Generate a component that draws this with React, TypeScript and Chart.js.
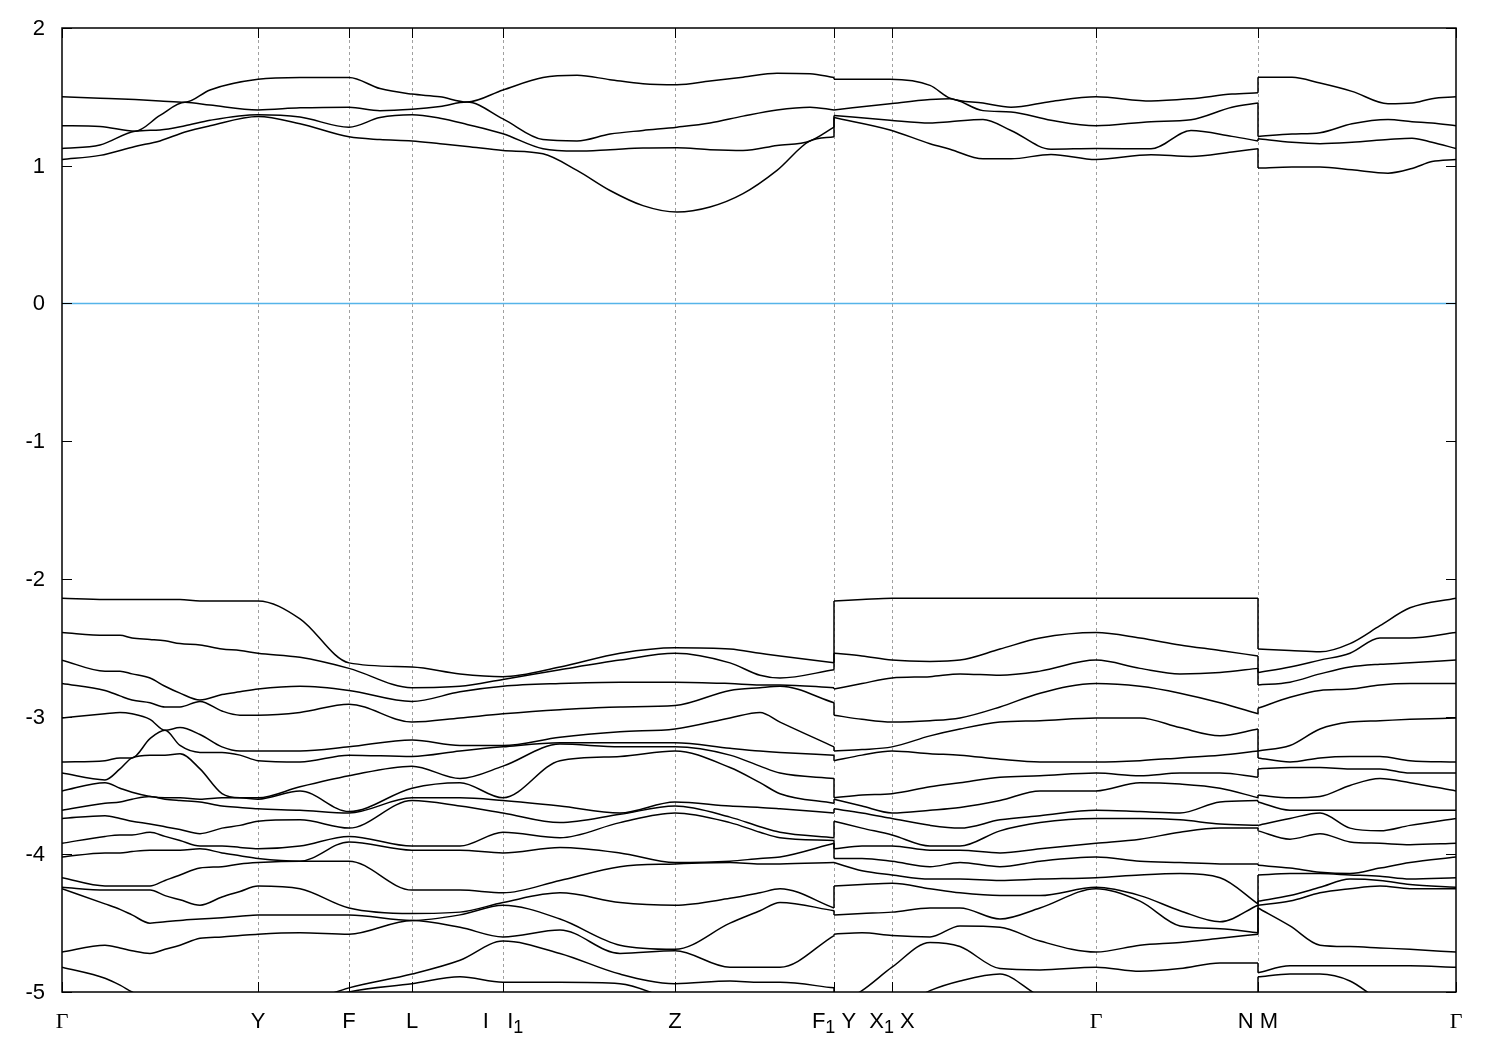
import { useEffect, useRef } from 'react';
import { Chart, registerables } from 'chart.js';

Chart.register(...registerables);

// ---- axes ----
const symK = [0, 1.96, 2.87, 3.5, 4.41, 6.13, 7.72, 8.3, 10.34, 11.96, 13.94];
const symLabels = ['Γ', 'Y', 'F', 'L', 'I   I_1', 'Z', 'F_1 Y', 'X_1 X', 'Γ', 'N M', 'Γ'];
const energyTicks = [2, 1, 0, -1, -2, -3, -4, -5];
const fermiLevel = 0;
const kMax = 13.94;

// ---- valence bands (eV), rows = k samples, columns = bands sorted by energy ----
const gammaValence = [-2.14, -2.39, -2.59, -2.76, -3.01, -3.33, -3.41, -3.54, -3.68, -3.74, -3.92, -4.02, -4.17, -4.24, -4.25, -4.71, -4.82, -5.13, -5.17];
const yValence = [-2.16, -2.54, -2.8, -2.99, -3.25, -3.32, -3.59, -3.6, -3.67, -3.76, -3.96, -4.03, -4.06, -4.23, -4.44, -4.58, -5.1, -5.13, -5.17];

const seg1K = [0, 0.43, 0.58, 0.7, 0.88, 1.03, 1.18, 1.38, 1.6, 1.78, 1.96, 2.38, 2.87, 3.5, 3.98, 4.41, 4.98, 5.58, 6.13, 6.68, 6.98, 7.18, 7.72];
const valence1 = [
  gammaValence,
  [-2.15, -2.41, -2.67, -2.81, -2.98, -3.32, -3.46, -3.48, -3.63, -3.72, -3.87, -3.99, -4.23, -4.26, -4.36, -4.66, -4.9, -5.13, -5.17],
  [-2.15, -2.41, -2.67, -2.85, -2.97, -3.3, -3.38, -3.52, -3.62, -3.74, -3.86, -3.99, -4.23, -4.26, -4.4, -4.68, -4.95, -5.13, -5.17],
  [-2.15, -2.43, -2.69, -2.88, -2.98, -3.3, -3.3, -3.55, -3.6, -3.76, -3.86, -3.98, -4.23, -4.26, -4.44, -4.7, -5.0, -5.13, -5.17],
  [-2.15, -2.44, -2.72, -2.9, -3.02, -3.16, -3.28, -3.58, -3.58, -3.78, -3.84, -3.97, -4.23, -4.26, -4.5, -4.72, -5.06, -5.13, -5.17],
  [-2.15, -2.45, -2.78, -2.93, -3.1, -3.1, -3.28, -3.59, -3.6, -3.8, -3.87, -3.97, -4.19, -4.3, -4.49, -4.69, -5.08, -5.13, -5.17],
  [-2.15, -2.47, -2.83, -2.93, -3.08, -3.21, -3.27, -3.59, -3.61, -3.82, -3.9, -3.97, -4.15, -4.33, -4.48, -4.66, -5.1, -5.13, -5.17],
  [-2.16, -2.48, -2.88, -2.89, -3.13, -3.26, -3.38, -3.6, -3.62, -3.85, -3.94, -3.96, -4.1, -4.37, -4.47, -4.61, -5.13, -5.15, -5.17],
  [-2.16, -2.51, -2.84, -2.96, -3.22, -3.26, -3.56, -3.59, -3.65, -3.81, -3.94, -3.99, -4.09, -4.31, -4.46, -4.6, -5.13, -5.15, -5.17],
  [-2.16, -2.52, -2.82, -2.99, -3.25, -3.28, -3.59, -3.59, -3.66, -3.79, -3.95, -4.01, -4.07, -4.27, -4.45, -4.59, -5.13, -5.15, -5.17],
  yValence,
  [-2.29, -2.57, -2.78, -2.97, -3.25, -3.33, -3.51, -3.54, -3.68, -3.75, -3.94, -4.05, -4.05, -4.25, -4.44, -4.57, -5.08, -5.12, -5.17],
  [-2.61, -2.65, -2.81, -2.91, -3.22, -3.28, -3.43, -3.69, -3.7, -3.81, -3.87, -3.91, -4.05, -4.39, -4.44, -4.58, -4.97, -5.0, -5.13],
  [-2.64, -2.79, -2.89, -3.04, -3.17, -3.29, -3.36, -3.52, -3.59, -3.61, -3.94, -3.97, -4.26, -4.43, -4.48, -4.48, -4.87, -4.94, -5.13],
  [-2.69, -2.78, -2.82, -3.01, -3.21, -3.25, -3.45, -3.48, -3.59, -3.65, -3.94, -3.97, -4.26, -4.42, -4.44, -4.53, -4.77, -4.89, -5.13],
  [-2.71, -2.73, -2.78, -2.98, -3.21, -3.22, -3.36, -3.59, -3.61, -3.7, -3.84, -3.99, -4.28, -4.35, -4.37, -4.6, -4.63, -4.93, -5.13],
  [-2.64, -2.66, -2.76, -2.95, -3.15, -3.19, -3.2, -3.32, -3.65, -3.77, -3.88, -3.95, -4.19, -4.28, -4.47, -4.55, -4.72, -4.93, -5.13],
  [-2.54, -2.59, -2.75, -2.93, -3.11, -3.19, -3.22, -3.29, -3.7, -3.71, -3.77, -3.99, -4.09, -4.35, -4.66, -4.72, -4.87, -4.94, -5.13],
  [-2.5, -2.54, -2.75, -2.92, -3.09, -3.19, -3.22, -3.25, -3.62, -3.65, -3.7, -4.06, -4.07, -4.37, -4.69, -4.7, -4.94, -5.06, -5.13],
  [-2.51, -2.61, -2.76, -2.81, -3.01, -3.23, -3.28, -3.37, -3.65, -3.73, -3.77, -4.05, -4.06, -4.32, -4.5, -4.82, -4.92, -5.1, -5.13],
  [-2.54, -2.7, -2.77, -2.79, -2.97, -3.25, -3.36, -3.48, -3.66, -3.8, -3.84, -4.03, -4.07, -4.28, -4.41, -4.82, -4.93, -5.1, -5.13],
  [-2.56, -2.72, -2.77, -2.78, -3.04, -3.26, -3.41, -3.56, -3.67, -3.84, -3.88, -4.02, -4.07, -4.25, -4.35, -4.82, -4.93, -5.1, -5.13],
  [-2.61, -2.66, -2.79, -2.9, -3.22, -3.28, -3.45, -3.63, -3.7, -3.88, -3.9, -3.92, -4.06, -4.39, -4.41, -4.59, -4.97, -5.1, -5.13],
];

const seg2K = [7.72, 8.0, 8.3, 8.68, 8.98, 9.38, 9.78, 10.34, 10.78, 11.18, 11.58, 11.96];
const valence2 = [
  yValence,
  [-2.15, -2.56, -2.76, -3.02, -3.24, -3.28, -3.57, -3.65, -3.7, -3.81, -3.94, -4.03, -4.12, -4.22, -4.43, -4.57, -4.99, -5.13, -5.17],
  [-2.14, -2.59, -2.72, -3.04, -3.22, -3.25, -3.56, -3.7, -3.74, -3.86, -3.94, -4.05, -4.15, -4.21, -4.42, -4.59, -4.82, -5.13, -5.17],
  [-2.14, -2.6, -2.71, -3.03, -3.14, -3.27, -3.51, -3.68, -3.79, -3.94, -3.97, -4.09, -4.18, -4.25, -4.39, -4.6, -4.64, -4.99, -5.17],
  [-2.14, -2.59, -2.69, -3.01, -3.09, -3.28, -3.48, -3.66, -3.81, -3.94, -3.97, -4.06, -4.18, -4.28, -4.39, -4.52, -4.67, -4.92, -5.17],
  [-2.14, -2.51, -2.7, -2.93, -3.04, -3.31, -3.44, -3.61, -3.75, -3.83, -3.99, -4.09, -4.19, -4.3, -4.47, -4.53, -4.83, -4.87, -5.17],
  [-2.14, -2.43, -2.67, -2.83, -3.03, -3.33, -3.43, -3.54, -3.72, -3.77, -3.96, -4.05, -4.18, -4.3, -4.39, -4.63, -4.84, -5.03, -5.17],
  gammaValence,
  [-2.14, -2.43, -2.65, -2.78, -3.01, -3.32, -3.43, -3.48, -3.69, -3.74, -3.89, -4.05, -4.15, -4.3, -4.34, -4.66, -4.85, -5.13, -5.17],
  [-2.14, -2.48, -2.69, -2.83, -3.08, -3.3, -3.41, -3.49, -3.7, -3.75, -3.84, -4.06, -4.14, -4.41, -4.52, -4.64, -4.83, -5.13, -5.17],
  [-2.14, -2.52, -2.68, -2.9, -3.14, -3.28, -3.41, -3.52, -3.62, -3.78, -3.81, -4.07, -4.17, -4.49, -4.54, -4.61, -4.79, -5.13, -5.17],
  [-2.14, -2.56, -2.65, -2.98, -3.09, -3.25, -3.44, -3.59, -3.61, -3.79, -3.81, -4.07, -4.36, -4.37, -4.57, -4.58, -4.79, -5.13, -5.17],
];

const seg3K = [11.96, 12.28, 12.58, 12.88, 13.18, 13.48, 13.94];
const valence3 = [
  [-2.51, -2.68, -2.77, -2.94, -3.25, -3.3, -3.38, -3.57, -3.62, -3.79, -3.83, -4.08, -4.15, -4.34, -4.37, -4.39, -4.86, -4.89, -5.13],
  [-2.52, -2.64, -2.75, -2.86, -3.21, -3.33, -3.37, -3.59, -3.68, -3.74, -3.89, -4.1, -4.14, -4.3, -4.34, -4.52, -4.81, -4.87, -5.13],
  [-2.53, -2.59, -2.69, -2.81, -3.09, -3.3, -3.37, -3.58, -3.68, -3.7, -3.85, -4.13, -4.14, -4.24, -4.28, -4.66, -4.81, -4.87, -5.13],
  [-2.47, -2.54, -2.64, -2.8, -3.04, -3.29, -3.38, -3.5, -3.68, -3.81, -3.91, -4.14, -4.15, -4.18, -4.25, -4.67, -4.81, -4.92, -5.13],
  [-2.34, -2.43, -2.62, -2.77, -3.03, -3.29, -3.38, -3.45, -3.68, -3.83, -3.92, -4.1, -4.16, -4.19, -4.23, -4.68, -4.81, -5.06, -5.13],
  [-2.21, -2.43, -2.61, -2.76, -3.02, -3.32, -3.41, -3.48, -3.68, -3.79, -3.93, -4.06, -4.18, -4.22, -4.25, -4.69, -4.81, -5.13, -5.17],
  gammaValence,
];

// ---- conduction bands (eV), columns = bands from highest to lowest ----
const gammaConduction = [1.5, 1.29, 1.125, 1.045];
const condK1 = [0, 0.38, 0.73, 0.98, 1.23, 1.48, 1.96, 2.38, 2.87, 3.18, 3.5, 3.78, 4.05, 4.41, 4.81, 5.15, 5.48, 5.81, 6.15, 6.48, 6.81, 7.15, 7.48, 7.72];
const conduction1 = [
  gammaConduction,
  [1.49, 1.285, 1.15, 1.075],
  [1.48, 1.25, 1.25, 1.14],
  [1.47, 1.365, 1.26, 1.18],
  [1.46, 1.46, 1.29, 1.245],
  [1.55, 1.44, 1.33, 1.29],
  [1.627, 1.405, 1.37, 1.358],
  [1.64, 1.42, 1.353, 1.305],
  [1.64, 1.425, 1.28, 1.21],
  [1.56, 1.4, 1.35, 1.19],
  [1.52, 1.41, 1.37, 1.18],
  [1.5, 1.43, 1.345, 1.16],
  [1.462, 1.462, 1.3, 1.14],
  [1.55, 1.34, 1.232, 1.11],
  [1.64, 1.19, 1.123, 1.087],
  [1.656, 1.18, 1.106, 0.966],
  [1.625, 1.23, 1.116, 0.82],
  [1.595, 1.256, 1.128, 0.71],
  [1.588, 1.28, 1.13, 0.663],
  [1.615, 1.31, 1.116, 0.7],
  [1.643, 1.36, 1.11, 0.797],
  [1.672, 1.405, 1.147, 0.966],
  [1.668, 1.425, 1.18, 1.18],
  [1.64, 1.405, 1.28, 1.21],
];
const condK2 = [7.72, 8.28, 8.68, 8.88, 9.21, 9.49, 9.89, 10.34, 10.89, 11.29, 11.7, 11.96];
const conduction2 = [
  [1.627, 1.405, 1.365, 1.35],
  [1.627, 1.45, 1.33, 1.26],
  [1.583, 1.48, 1.31, 1.16],
  [1.49, 1.487, 1.32, 1.12],
  [1.455, 1.4, 1.336, 1.05],
  [1.425, 1.39, 1.256, 1.05],
  [1.467, 1.33, 1.12, 1.082],
  gammaConduction,
  [1.47, 1.32, 1.123, 1.08],
  [1.487, 1.334, 1.256, 1.067],
  [1.52, 1.425, 1.213, 1.1],
  [1.53, 1.455, 1.18, 1.123],
];
const condK3 = [11.96, 12.3, 12.58, 12.9, 13.26, 13.5, 13.7, 13.94];
const conduction3 = [
  [1.643, 1.213, 1.196, 0.983],
  [1.643, 1.23, 1.17, 0.99],
  [1.6, 1.24, 1.16, 0.99],
  [1.54, 1.305, 1.17, 0.97],
  [1.45, 1.336, 1.19, 0.946],
  [1.455, 1.32, 1.2, 0.98],
  [1.487, 1.31, 1.17, 1.03],
  gammaConduction,
];

const bandColor = '#000000';
const fermiColor = '#56b4e9';

type Pt = { x: number; y: number };

function buildDatasets() {
  const groups: [number[], number[][]][][] = [
    [[seg1K, valence1], [seg2K, valence2], [seg3K, valence3]],
    [[condK1, conduction1], [condK2, conduction2], [condK3, conduction3]],
  ];
  const sets: any[] = [];
  for (const group of groups) {
    group.forEach(([ks, rows], s) => {
      const nb = rows[0].length;
      for (let b = 0; b < nb; b++) {
        const data: Pt[] = ks.map((k, i) => ({ x: k, y: rows[i][b] }));
        sets.push({
          data,
          borderColor: bandColor,
          borderWidth: 1.5,
          pointRadius: 0,
          fill: false,
          cubicInterpolationMode: 'monotone',
        });
      }
      if (s < group.length - 1) {
        const [nks, nrows] = group[s + 1];
        const kx = ks[ks.length - 1];
        const last = rows[rows.length - 1];
        const first = nrows[0];
        for (let b = 0; b < nb; b++) {
          if (Math.abs(last[b] - first[b]) < 1e-6) continue;
          sets.push({
            data: [
              { x: kx, y: last[b] },
              { x: nks[0], y: first[b] },
            ],
            borderColor: bandColor,
            borderWidth: 1.5,
            pointRadius: 0,
            fill: false,
            tension: 0,
          });
        }
      }
    });
  }
  sets.push({
    data: [
      { x: 0, y: fermiLevel },
      { x: kMax, y: fermiLevel },
    ],
    borderColor: fermiColor,
    borderWidth: 1.5,
    pointRadius: 0,
    fill: false,
    tension: 0,
  });
  return sets;
}

function parseLabel(s: string) {
  const parts: { t: string; sub: boolean }[] = [];
  let buf = '';
  for (let i = 0; i < s.length; i++) {
    if (s[i] === '_' && i + 1 < s.length) {
      if (buf) parts.push({ t: buf, sub: false });
      buf = '';
      parts.push({ t: s[i + 1], sub: true });
      i++;
    } else buf += s[i];
  }
  if (buf) parts.push({ t: buf, sub: false });
  return parts;
}

const mainFont = '22px "Liberation Sans", Arial, sans-serif';
const subFont = '18px "Liberation Sans", Arial, sans-serif';
const gammaFont = '22px "Liberation Serif", "DejaVu Serif", serif';

const decor = {
  id: 'decor',
  beforeDatasetsDraw(chart: any) {
    const { ctx, chartArea: a, scales } = chart;
    const xs = scales.x;
    ctx.save();
    ctx.strokeStyle = '#a0a0a0';
    ctx.lineWidth = 1;
    ctx.setLineDash([3, 3]);
    symK.forEach((k, i) => {
      if (i === 0 || i === symK.length - 1) return;
      const px = Math.round(xs.getPixelForValue(k)) + 0.5;
      ctx.beginPath();
      ctx.moveTo(px, a.top);
      ctx.lineTo(px, a.bottom);
      ctx.stroke();
    });
    ctx.restore();
  },
  afterDraw(chart: any) {
    const { ctx, chartArea: a, scales } = chart;
    const xs = scales.x;
    const ys = scales.y;
    ctx.save();
    ctx.strokeStyle = '#000';
    ctx.lineWidth = 1.5;
    ctx.setLineDash([]);
    ctx.strokeRect(a.left, a.top, a.right - a.left, a.bottom - a.top);
    ctx.lineWidth = 1;
    energyTicks.forEach((v) => {
      const py = Math.round(ys.getPixelForValue(v)) + 0.5;
      ctx.beginPath();
      ctx.moveTo(a.left, py);
      ctx.lineTo(a.left + 10, py);
      ctx.moveTo(a.right, py);
      ctx.lineTo(a.right - 10, py);
      ctx.stroke();
    });
    symK.forEach((k) => {
      const px = Math.round(xs.getPixelForValue(k)) + 0.5;
      ctx.beginPath();
      ctx.moveTo(px, a.bottom);
      ctx.lineTo(px, a.bottom - 10);
      ctx.moveTo(px, a.top);
      ctx.lineTo(px, a.top + 10);
      ctx.stroke();
    });
    ctx.fillStyle = '#000';
    ctx.font = mainFont;
    ctx.textAlign = 'right';
    ctx.textBaseline = 'middle';
    energyTicks.forEach((v) => {
      ctx.fillText(String(v), a.left - 17, ys.getPixelForValue(v) + 1);
    });
    ctx.textAlign = 'left';
    ctx.textBaseline = 'alphabetic';
    const base = a.bottom + 36;
    symK.forEach((k, i) => {
      const parts = parseLabel(symLabels[i]);
      const fonts = parts.map((p) => (p.sub ? subFont : p.t === 'Γ' ? gammaFont : mainFont));
      const widths = parts.map((p, j) => {
        ctx.font = fonts[j];
        return ctx.measureText(p.t).width;
      });
      const total = widths.reduce((s, w) => s + w, 0);
      let x = xs.getPixelForValue(k) - total / 2;
      parts.forEach((p, j) => {
        ctx.font = fonts[j];
        ctx.fillText(p.t, x, p.sub ? base + 5 : base);
        x += widths[j];
      });
    });
    ctx.restore();
  },
};

export default function App() {
  const ref = useRef<HTMLCanvasElement>(null);
  useEffect(() => {
    const canvas = ref.current;
    if (!canvas) return;
    const chart = new Chart(canvas, {
      type: 'line',
      data: { datasets: buildDatasets() },
      options: {
        animation: false,
        responsive: false,
        devicePixelRatio: 1,
        events: [],
        layout: { padding: { left: 62, top: 28, right: 44, bottom: 58 } },
        scales: {
          x: { type: 'linear', min: 0, max: kMax, display: false },
          y: { type: 'linear', min: -5, max: 2, display: false },
        },
        plugins: { legend: { display: false }, tooltip: { enabled: false } },
      },
      plugins: [decor],
    } as any);
    return () => chart.destroy();
  }, []);
  return (
    <div style={{ position: 'fixed', left: 0, top: 0, width: 1500, height: 1050, background: '#fff' }}>
      <canvas ref={ref} width={1500} height={1050} style={{ width: 1500, height: 1050, display: 'block' }} />
    </div>
  );
}
